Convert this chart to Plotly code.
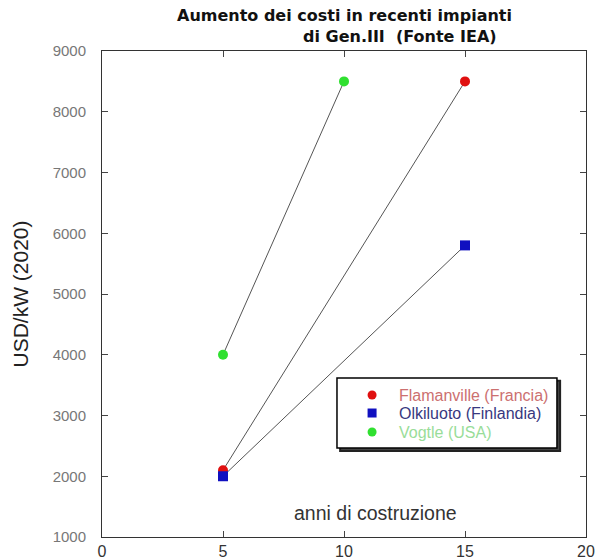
import plotly.graph_objects as go

names = ["Flamanville (Francia)", "Olkiluoto (Finlandia)", "Vogtle (USA)"]
years = [[5, 15], [5, 15], [5, 10]]
costs = [[2100, 8500], [2000, 5800], [4000, 8500]]
marker_colors = ["#e01010", "#1010c0", "#30e030"]
text_colors = ["#cc7070", "#383880", "#99dd99"]
symbols = ["circle", "square", "circle"]
x_ticks = [0, 5, 10, 15, 20]
y_ticks = [1000, 2000, 3000, 4000, 5000, 6000, 7000, 8000, 9000]

FONT = "Liberation Sans, Arial"

fig = go.Figure()

# legend box with shadow (drawn below data)
fig.add_shape(type="rect", x0=9.84, x1=18.93, y0=2415, y1=3570,
              line=dict(color="#222222", width=2), fillcolor="#444444", layer="below")
fig.add_shape(type="rect", x0=9.71, x1=18.8, y0=2465, y1=3617,
              line=dict(color="black", width=1.5), fillcolor="white", layer="below")

for n, xs, ys, mc, sym in zip(names, years, costs, marker_colors, symbols):
    fig.add_trace(go.Scatter(
        x=xs, y=ys, mode="lines+markers", name=n,
        line=dict(color="#555555", width=1),
        marker=dict(color=mc, symbol=sym, size=10),
        showlegend=False,
    ))

leg_y = [3337, 3041, 2728]
for n, mc, tc, sym, ly in zip(names, marker_colors, text_colors, symbols, leg_y):
    fig.add_trace(go.Scatter(x=[11.16], y=[ly], mode="markers",
                             marker=dict(color=mc, symbol=sym, size=9),
                             showlegend=False, hoverinfo="skip"))
    fig.add_annotation(x=12.19, y=ly, text=n, showarrow=False, xanchor="left",
                       font=dict(family=FONT, size=16, color=tc))

fig.add_annotation(x=11.32, y=1395, text="anni di costruzione", showarrow=False,
                   font=dict(family=FONT, size=19.5, color="#333333"))

fig.add_annotation(xref="paper", yref="paper", x=0.502, y=1.074, xanchor="center",
                   yanchor="middle",
                   text="<b>Aumento dei costi in recenti impianti</b>", showarrow=False,
                   font=dict(family="DejaVu Sans", size=16, color="#111111"))
fig.add_annotation(xref="paper", yref="paper", x=0.616, y=1.029, xanchor="center",
                   yanchor="middle",
                   text="<b>di Gen.III  (Fonte IEA)</b>", showarrow=False,
                   font=dict(family="DejaVu Sans", size=16, color="#111111"))

fig.update_xaxes(range=[0, 20], tickvals=x_ticks, ticks="inside", ticklen=6,
                 showline=True, linecolor="#333333", mirror="ticks", showgrid=False,
                 zeroline=False, automargin=False,
                 tickfont=dict(family=FONT, size=16, color="#333333"))
fig.update_yaxes(range=[1000, 9000], tickvals=y_ticks, ticks="inside", ticklen=6,
                 showline=True, linecolor="#333333", mirror="ticks", showgrid=False,
                 zeroline=False, automargin=False, ticklabelstandoff=12,
                 title=dict(text="USD/kW (2020)", standoff=18,
                            font=dict(family=FONT, size=21, color="#222222")),
                 tickfont=dict(family=FONT, size=15, color="#777777"))

fig.update_layout(width=599, height=559, margin=dict(l=102, r=13, t=51, b=22),
                  plot_bgcolor="white", paper_bgcolor="white", showlegend=False)
fig.write_html("out.html", config={"displayModeBar": False},
               post_script="document.body.style.margin='0';document.body.style.overflow='hidden';")
